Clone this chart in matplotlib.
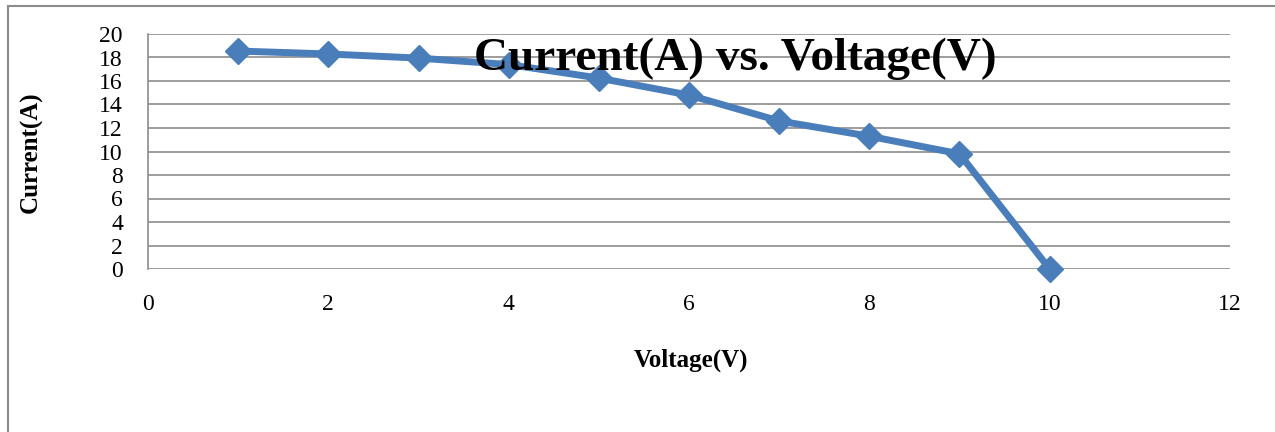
import matplotlib
matplotlib.use("Agg")
import matplotlib.pyplot as plt
from matplotlib.patches import Rectangle

voltage = [1, 2, 3, 4, 5, 6, 7, 8, 9, 10]
current = [18.55, 18.3, 17.95, 17.4, 16.25, 14.8, 12.6, 11.3, 9.8, 0.0]
x_ticks = [0, 2, 4, 6, 8, 10, 12]
y_ticks = [0, 2, 4, 6, 8, 10, 12, 14, 16, 18, 20]

plt.rcParams['font.family'] = ['Liberation Serif', 'DejaVu Serif']

fig = plt.figure(figsize=(12.75, 4.32), dpi=100)
fig.patches.append(Rectangle((8/1275, -0.1), 1.2, 1 - 6/432 + 0.1,
                             transform=fig.transFigure, fill=False,
                             edgecolor='#8c8c8c', linewidth=1.5, zorder=0))

ax = fig.add_axes([148/1275, 1 - 269/432, (1230 - 148)/1275, (269 - 34)/432])
ax.plot(voltage, current, color='#4a7ebb', linewidth=5, marker='D',
        markersize=13, markeredgecolor='#4a7ebb', clip_on=False, zorder=3)
ax.set_xlim(0, 12)
ax.set_ylim(0, 20)
ax.set_xticks(x_ticks)
ax.set_yticks(y_ticks)
ax.tick_params(axis='both', length=0, labelsize=17)
ax.tick_params(axis='x', pad=18)
ax.tick_params(axis='y', pad=18)
for s in ['top', 'right', 'bottom']:
    ax.spines[s].set_visible(False)
ax.spines['left'].set_color('#8c8c8c')
ax.spines['left'].set_linewidth(1.2)
ax.yaxis.grid(True, color='#8c8c8c', linewidth=1.2)
ax.set_axisbelow(True)

fig.text(691/1275, 1 - 360/432, 'Voltage(V)', fontsize=18, fontweight='bold',
         ha='center', va='center')
fig.text(31/1275, 1 - 152/432, 'Current(A)', fontsize=18, fontweight='bold',
         ha='center', va='center', rotation=90)
fig.text(735/1275, 1 - 59/432, 'Current(A) vs. Voltage(V)', fontsize=34,
         fontweight='bold', ha='center', va='center', zorder=5)

fig.savefig('out.png', dpi=100)
